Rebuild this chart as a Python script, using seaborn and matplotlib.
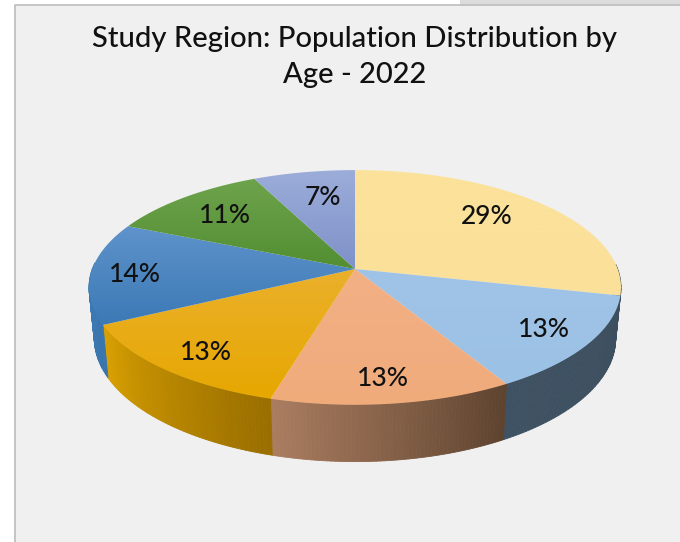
import numpy as np
import seaborn as sns
import matplotlib.pyplot as plt
from matplotlib.patches import Polygon, Rectangle
from matplotlib.colors import to_rgb

# age groups are not named in the picture, only the shares
shares = [28.6, 13.1, 12.7, 13.1, 14.0, 11.3, 7.2]
labels = ["29%", "13%", "13%", "13%", "14%", "11%", "7%"]
title = "Study Region: Population Distribution by\nAge - 2022"

# top colours (upper, lower stop of the vertical gradient)
top_colors = [("#fbe29b", "#fbe09a"), ("#a0c4e7", "#9bc1e5"), ("#f2b085", "#f0ab7b"),
              ("#ebb02c", "#e6a700"), ("#5f93cb", "#3b79b5"), ("#6da34c", "#538e32"),
              ("#9cadda", "#7e91c8")]
# side colours, in clockwise order along the rim
side_colors = [("#3c4f60", "#3c4f60"), ("#3d4f5f", "#3f5263"), ("#5e432f", "#aa7d60"),
               ("#9a6e00", "#d8a000"), ("#3a75ad", "#3f7cb8"), ("#3f7cb8", "#3f7cb8"),
               ("#7384b5", "#7384b5")]

# perspective used to lay the disc down (pixels)
CX, CY, RX, RY, TILT = 355, 269, 262.7, 72.2, 0.157
MID_Y, SIDE_DROP, BASE_X, BASE_Y = 287.5, 51, 0.98, 1.05

# label placement inside each slice
label_radius = [0.745, 0.818, 0.827, 0.822, 0.834, 0.746, 0.722]
label_nudge = [4.7, 0.8, -0.5, 1.0, 0.6, -0.5, -2.2]
LABEL_DROP = 1.5


def project(angle, r=1.0):
    a = np.radians(angle)
    u, v = r * np.cos(a), r * np.sin(a)
    w = 1 + TILT * v
    return CX + RX * u / w, (CY - RY * v) / w


def to_base(x, y):
    return CX + BASE_X * (x - CX), MID_Y + BASE_Y * (y - MID_Y) + SIDE_DROP


sns.set_theme(style="white")
plt.rcParams["font.family"] = ["Lato", "DejaVu Sans"]

fig = plt.figure(figsize=(6.8, 5.42), dpi=100, facecolor="white")
ax = fig.add_axes([0, 0, 1, 1])

# slide background and its frame
ax.add_patch(Rectangle((14, 5), 666, 537, facecolor="#f0f0f0", edgecolor="none"))
ax.plot([14.5, 14.5, 680], [542, 5, 5], color="#bdbdbd", lw=1.2)
ax.add_patch(Rectangle((460, 0), 220, 4.5, facecolor="#dcdcdc", edgecolor="none"))

ends = 90 - np.cumsum(shares) * 3.6
starts = np.concatenate([[90], ends[:-1]])

# sides first, the top covers whatever is at the back
for start, end, cols in zip(starts, ends, side_colors):
    angles = np.linspace(start, end, 61)
    pal = sns.blend_palette(cols, 60)
    for i in range(60):
        # the back half of the rim can't be seen
        if np.sin(np.radians(angles[i])) > 0.05:
            continue
        x0, y0 = project(angles[i])
        x1, y1 = project(angles[i + 1])
        bx0, by0 = to_base(x0, y0)
        bx1, by1 = to_base(x1, y1)
        ax.add_patch(Polygon([(x0, y0), (x1, y1), (bx1, by1), (bx0, by0)],
                             facecolor=pal[i], edgecolor=pal[i], lw=0.6, zorder=2))

# top of the pie
for start, end, cols in zip(starts, ends, top_colors):
    angles = np.linspace(start, end, 120)
    xs, ys = project(angles)
    pts = np.column_stack([np.append(xs, CX), np.append(ys, CY)])
    poly = Polygon(pts, transform=ax.transData, facecolor="none", edgecolor="none")
    ax.add_patch(poly)
    c0, c1 = np.array(to_rgb(cols[0])), np.array(to_rgb(cols[1]))
    t = np.linspace(0, 1, 100)[:, None, None]
    grad = c0[None, None, :] * (1 - t) + c1[None, None, :] * t
    im = ax.imshow(grad, extent=[pts[:, 0].min() - 1, pts[:, 0].max() + 1,
                                 pts[:, 1].max() + 1, pts[:, 1].min() - 1],
                   aspect="auto", zorder=3, interpolation="bilinear")
    im.set_clip_path(poly)

mids = (starts + ends) / 2
for mid, lab, r, nudge in zip(mids, labels, label_radius, label_nudge):
    x, y = project(mid + nudge, r)
    ax.text(x, y + LABEL_DROP, lab, ha="center", va="center", fontsize=19,
            fontweight="medium", color="#111111", zorder=4)

ax.text(354.5, 57, title, ha="center", va="center", fontsize=21, fontweight="medium",
        color="#111111", linespacing=1.5)

ax.set_xlim(0, 680)
ax.set_ylim(542, 0)
ax.axis("off")
fig.savefig("out.png", dpi=100, facecolor="white")
